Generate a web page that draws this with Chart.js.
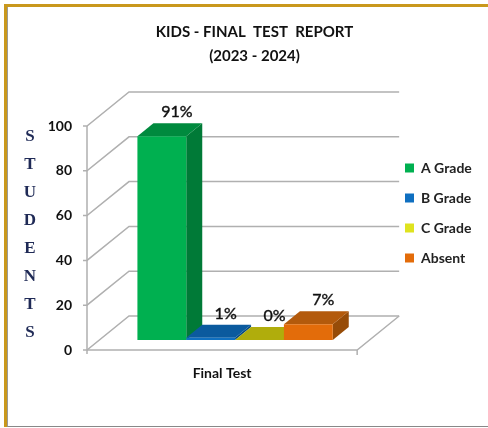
<!DOCTYPE html>
<html>
<head>
<meta charset="utf-8">
<script src="https://cdn.jsdelivr.net/npm/chart.js@4/dist/chart.umd.js"></script>
<style>
  html, body { margin: 0; padding: 0; background: #fff; overflow: hidden; }
  #wrap { position: relative; width: 488px; height: 428px; }
  canvas { position: absolute; left: 0; top: 0; }
  /* gold frame with the thin grey line inside it */
  #frame { position: absolute; left: 4px; top: 4px; width: 500px; height: 420px;
           border-top: 3px solid #c9981c; border-left: 3px solid #c9981c; }
  #frame div { position: absolute; left: 0; top: 0; right: 0; bottom: 0;
           border-left: 1px solid #999; border-bottom: 1px solid #888; }
</style>
</head>
<body>
<div id="wrap">
  <canvas id="mychart" width="488" height="428"></canvas>
  <div id="frame"><div></div></div>
</div>
<script>
const categories = ['Final Test'];
const seriesNames = ['A Grade', 'B Grade', 'C Grade', 'Absent'];
const seriesValues = [91, 1, 0, 7];
const frontColors = ['#00b050', '#0f6fc0', '#dfe31f', '#e36c0a'];
const topColors = ['#008a3e', '#0b5a9e', '#b0ad0c', '#b35a0c'];
const sideColors = ['#007a37', '#084a82', '#8f8c08', '#974c08'];
const yTicks = [0, 20, 40, 60, 80, 100];
const axisLetters = ['S', 'T', 'U', 'D', 'E', 'N', 'T', 'S'];
const titleLines = ['KIDS - FINAL  TEST  REPORT', '(2023 - 2024)'];

// fake 3D: wall depth, where bars sit on the floor, how deep they are
const wallDx = 42, wallDy = -34;
const barDx = 13, barDy = -10;
const depthDx = 16, depthDy = -13;

const poly = (ctx, pts, color) => {
  ctx.fillStyle = color;
  ctx.beginPath();
  pts.forEach((p, i) => i ? ctx.lineTo(p[0], p[1]) : ctx.moveTo(p[0], p[1]));
  ctx.closePath();
  ctx.fill();
};

// title and legend don't sit where the layout wants them, nudge the boxes
const placeBoxes = {
  id: 'placeBoxes',
  afterLayout(chart) {
    const title = chart.titleBlock, legend = chart.legend;
    const shift = 254.5 - (title.left + title.right) / 2;
    title.left += shift;
    title.right += shift;
    legend.left = 389;
    legend.right = 488;
    legend.top = 145;
    legend.bottom = 428;
  }
};

const walls3d = {
  id: 'walls3d',
  beforeDatasetsDraw(chart) {
    const ctx = chart.ctx, y = chart.scales.y, area = chart.chartArea;
    ctx.save();
    ctx.strokeStyle = '#b0b0b0';
    ctx.lineWidth = 1.5;
    yTicks.forEach((v) => {
      const py = y.getPixelForValue(v);
      ctx.beginPath();
      ctx.moveTo(area.left - 4, py);
      ctx.lineTo(area.left, py);
      ctx.lineTo(area.left + wallDx, py + wallDy);
      ctx.lineTo(area.right + wallDx, py + wallDy);
      ctx.stroke();
    });
    ctx.beginPath();
    ctx.moveTo(area.left, y.getPixelForValue(100));
    ctx.lineTo(area.left, area.bottom + 4);
    ctx.moveTo(area.left, area.bottom);
    ctx.lineTo(area.right, area.bottom);
    ctx.lineTo(area.right + wallDx, area.bottom + wallDy);
    ctx.moveTo(area.right, area.bottom);
    ctx.lineTo(area.right, area.bottom + 5);
    ctx.stroke();
    ctx.restore();
  }
};

const bars3d = {
  id: 'bars3d',
  beforeDatasetsDraw(chart) {
    const ctx = chart.ctx;
    ctx.save();
    ctx.translate(barDx, barDy);
    seriesValues.forEach((v, i) => {
      const bar = chart.getDatasetMeta(i).data[0];
      const l = bar.x - bar.width / 2, r = bar.x + bar.width / 2;
      poly(ctx, [[r, bar.y], [r + depthDx, bar.y + depthDy], [r + depthDx, bar.base + depthDy], [r, bar.base]], sideColors[i]);
      poly(ctx, [[l, bar.y], [l + depthDx, bar.y + depthDy], [r + depthDx, bar.y + depthDy], [r, bar.y]], topColors[i]);
    });
    ctx.restore();
    // the fronts are the library's own bars, moved onto the floor
    ctx.save();
    ctx.translate(barDx, barDy);
  },
  afterDatasetsDraw(chart) {
    const ctx = chart.ctx;
    ctx.restore();
    ctx.save();
    ctx.font = '16px Lato';
    ctx.fillStyle = '#111';
    ctx.strokeStyle = '#111';
    ctx.lineWidth = 0.4;
    ctx.textAlign = 'center';
    ctx.textBaseline = 'middle';
    seriesValues.forEach((v, i) => {
      const bar = chart.getDatasetMeta(i).data[0];
      const px = bar.x + barDx + 15, py = bar.y + barDy + depthDy - 11;
      ctx.fillText(v + '%', px, py);
      ctx.strokeText(v + '%', px, py);
    });
    ctx.restore();
  }
};

const sideLetters = {
  id: 'sideLetters',
  afterDraw(chart) {
    const ctx = chart.ctx;
    ctx.save();
    ctx.font = 'bold 17px "Liberation Serif"';
    ctx.fillStyle = '#1f2a56';
    ctx.textAlign = 'center';
    ctx.textBaseline = 'middle';
    axisLetters.forEach((ch, i) => ctx.fillText(ch, 30, 137 + i * 28));
    ctx.restore();
  }
};

new Chart(document.getElementById('mychart'), {
  type: 'bar',
  data: {
    labels: categories,
    datasets: seriesNames.map((name, i) => ({
      label: name,
      data: [seriesValues[i]],
      backgroundColor: frontColors[i],
      borderWidth: 0,
      categoryPercentage: 0.723,
      barPercentage: 1,
      clip: false
    }))
  },
  plugins: [placeBoxes, walls3d, bars3d, sideLetters],
  options: {
    responsive: false,
    animation: false,
    layout: { padding: { left: 36, right: 38, top: 0, bottom: 48 } },
    scales: {
      x: {
        afterFit(scale) { scale.height = 30; },
        grid: { display: false },
        border: { display: false },
        ticks: { color: '#111', padding: 7, font: { family: 'Lato', size: 14, weight: 'bold' } }
      },
      y: {
        min: 0,
        max: 100,
        afterFit(scale) { scale.width = 51; },
        afterBuildTicks(scale) { scale.ticks = yTicks.map((v) => ({ value: v })); },
        grid: { display: false },
        border: { display: false },
        ticks: { color: '#111', padding: 7, font: { family: 'Lato', size: 14, weight: 'bold' } }
      }
    },
    plugins: {
      tooltip: { enabled: false },
      title: {
        display: true,
        text: titleLines,
        color: '#111',
        font: { family: 'Lato', size: 15, weight: 'bold', lineHeight: 1.6 },
        padding: { top: 20, bottom: 58 }
      },
      legend: {
        position: 'right',
        align: 'start',
        labels: {
          boxWidth: 9,
          boxHeight: 9,
          padding: 16,
          color: '#222',
          font: { family: 'Lato', size: 14, weight: 'bold' }
        }
      }
    }
  }
});
</script>
</body>
</html>
